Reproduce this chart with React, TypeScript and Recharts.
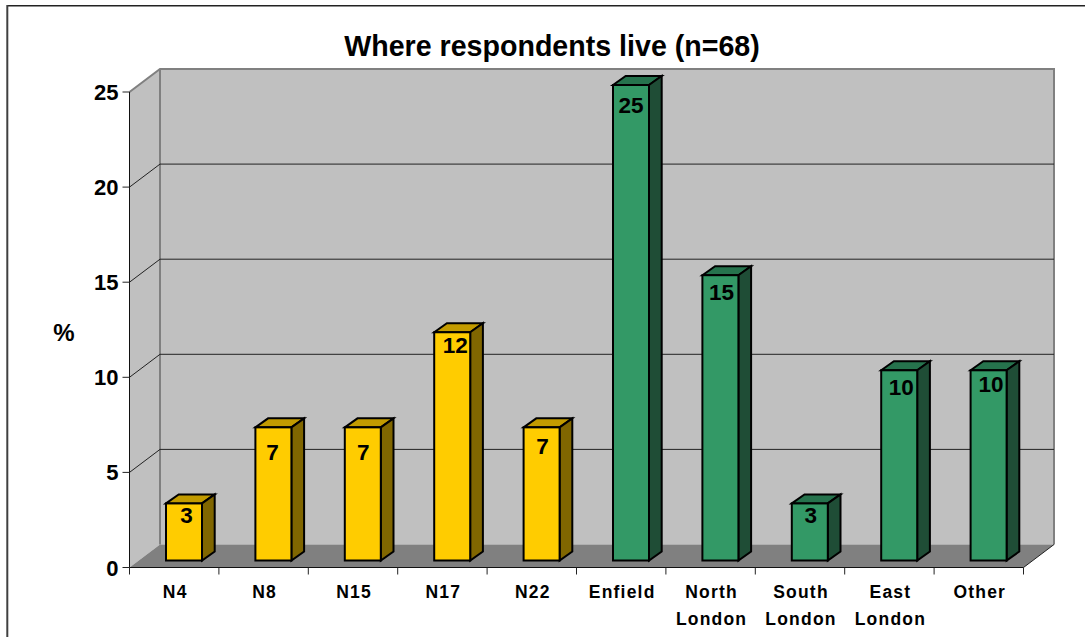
import { Bar, BarChart, LabelList, XAxis, YAxis, useOffset, usePlotArea } from 'recharts'

const CATEGORIES = ['N4', 'N8', 'N15', 'N17', 'N22', 'Enfield', 'North London', 'South London', 'East London', 'Other']
const VALUES = [3, 7, 7, 12, 7, 25, 15, 3, 10, 10]
const GROUPS = ['N', 'N', 'N', 'N', 'N', 'L', 'L', 'L', 'L', 'L']
const Y_TICKS = [0, 5, 10, 15, 20, 25]
const TITLE = 'Where respondents live (n=68)'

const rows = CATEGORIES.map((name, i) => ({ name, value: VALUES[i], group: GROUPS[i] }))

// wall depth of the fake 3D box, and where bars sit inside it
const DEPTH_X = 30.5
const DEPTH_Y = 23
const BAR_DX = 9.5
const BAR_DY = 7
const BAR_DEPTH_X = 12.7
const BAR_DEPTH_Y = 9
const FONT = '"Liberation Sans", Arial, sans-serif'

const COLORS: Record<string, { front: string; top: string; side: string }> = {
  N: { front: '#ffcc00', top: '#c29b00', side: '#806600' },
  L: { front: '#339966', top: '#26734d', side: '#1f4d36' },
}

// nudges the chart's data labels off the bar centre, as in the source
const LABEL_NUDGE_X = [2.5, -1, 0.5, 3, 1, 0, 1, 1, 2, 2.5]
const LABEL_NUDGE_Y = [12, 25, 25, 13, 19, 20, 17, 12, 17, 14]

function Walls() {
  const plot = usePlotArea()
  const offset = useOffset()
  if (!plot || !offset) return null
  const left = plot.x
  const right = plot.x + plot.width
  const top = plot.y
  const bottom = plot.y + plot.height
  const yFor = (v: number) => bottom - (v / 25) * plot.height
  return (
    <g>
      {/* the frame runs off the right and bottom of the picture */}
      <line x1={7} y1={5.8} x2={1085} y2={5.8} stroke="#222222" strokeWidth={1.5} />
      <line x1={7.3} y1={5} x2={7.3} y2={637} stroke="#404040" strokeWidth={2} />
      <text x={552} y={56} textAnchor="middle" fontFamily={FONT} fontWeight={700} fontSize={28.6} fill="#000">
        {TITLE}
      </text>
      <text x={64} y={341} textAnchor="middle" fontFamily={FONT} fontWeight={700} fontSize={24} fill="#000">
        %
      </text>
      <polygon
        points={`${left},${top} ${left + DEPTH_X},${top - DEPTH_Y} ${left + DEPTH_X},${bottom - DEPTH_Y} ${left},${bottom}`}
        fill="#c0c0c0"
      />
      <rect x={left + DEPTH_X} y={top - DEPTH_Y} width={plot.width} height={plot.height} fill="#c0c0c0" />
      <polygon
        points={`${left},${bottom} ${left + DEPTH_X},${bottom - DEPTH_Y} ${right + DEPTH_X},${bottom - DEPTH_Y} ${right},${bottom}`}
        fill="#808080"
      />
      <path
        d={`M${left},${top} L${left + DEPTH_X},${top - DEPTH_Y} L${right + DEPTH_X},${top - DEPTH_Y} L${right + DEPTH_X},${bottom - DEPTH_Y}`}
        fill="none"
        stroke="#808080"
        strokeWidth={2}
      />
      <line x1={left + DEPTH_X} y1={top - DEPTH_Y} x2={left + DEPTH_X} y2={bottom - DEPTH_Y} stroke="#808080" strokeWidth={2} />
      {Y_TICKS.slice(1, -1).map((v) => (
        <path
          key={v}
          d={`M${left},${yFor(v)} L${left + DEPTH_X},${yFor(v) - DEPTH_Y} L${right + DEPTH_X},${yFor(v) - DEPTH_Y}`}
          fill="none"
          stroke="#222222"
          strokeWidth={1}
        />
      ))}
      <line x1={right} y1={bottom} x2={right + DEPTH_X} y2={bottom - DEPTH_Y} stroke="#222222" strokeWidth={1} />
    </g>
  )
}

function Box3D(props: any) {
  const { x, y, width, height, payload } = props
  const c = COLORS[payload.group]
  const l = x + BAR_DX
  const r = l + width
  const t = y - BAR_DY
  const b = t + height
  const dx = BAR_DEPTH_X
  const dy = BAR_DEPTH_Y
  return (
    <g stroke="#000" strokeWidth={2} strokeLinejoin="miter">
      <polygon points={`${l},${t} ${l + dx},${t - dy} ${r + dx},${t - dy} ${r},${t}`} fill={c.top} />
      <polygon points={`${r},${t} ${r + dx},${t - dy} ${r + dx},${b - dy} ${r},${b}`} fill={c.side} />
      <rect x={l} y={t} width={width} height={height} fill={c.front} />
    </g>
  )
}

function BarValue(props: any) {
  const { x, y, width, value, index } = props
  return (
    <text
      x={x + BAR_DX + width / 2 + LABEL_NUDGE_X[index]}
      y={y - BAR_DY + LABEL_NUDGE_Y[index] + 8}
      textAnchor="middle"
      fontFamily={FONT}
      fontWeight={700}
      fontSize={22.5}
      fill="#000"
    >
      {value}
    </text>
  )
}

function YTick(props: any) {
  const { x, y, payload } = props
  return (
    <g>
      <line x1={x + 1} y1={y} x2={x + 8} y2={y} stroke="#222222" strokeWidth={1} />
      <text x={x - 3} y={y + 8} textAnchor="end" fontFamily={FONT} fontWeight={700} fontSize={22} fill="#000">
        {payload.value}
      </text>
    </g>
  )
}

function XTick(props: any) {
  const { x, y, payload, index } = props
  const half = 44.7
  const words = String(payload.value).split(' ')
  return (
    <g>
      <line x1={x - half} y1={y - 8} x2={x - half} y2={y - 1} stroke="#222222" strokeWidth={1} />
      {index === CATEGORIES.length - 1 && (
        <line x1={x + half} y1={y - 8} x2={x + half} y2={y - 1} stroke="#222222" strokeWidth={1} />
      )}
      {words.map((w, i) => (
        <text
          key={w}
          x={x + 1}
          y={y + 22.5 + i * 27}
          textAnchor="middle"
          fontFamily={FONT}
          fontWeight={700}
          fontSize={17.5}
          letterSpacing={1.2}
          fill="#000"
        >
          {w}
        </text>
      ))}
    </g>
  )
}

export default function App() {
  return (
    <div style={{ position: 'absolute', left: 0, top: 0, width: 1085, height: 637, overflow: 'hidden', background: '#fff' }}>
      <BarChart
        width={1085}
        height={637}
        data={rows}
        margin={{ top: 92, right: 61.5, bottom: 29.5, left: 69.5 }}
        barSize={36}
      >
        <Walls />
        <XAxis
          dataKey="name"
          height={40}
          interval={0}
          axisLine={{ stroke: '#111111' }}
          tickLine={false}
          tick={<XTick />}
        />
        <YAxis
          width={60}
          domain={[0, 25]}
          ticks={Y_TICKS}
          interval={0}
          axisLine={{ stroke: '#111111' }}
          tickLine={false}
          tick={<YTick />}
        />
        <Bar dataKey="value" isAnimationActive={false} shape={<Box3D />}>
          <LabelList dataKey="value" content={<BarValue />} />
        </Bar>
      </BarChart>
    </div>
  )
}
